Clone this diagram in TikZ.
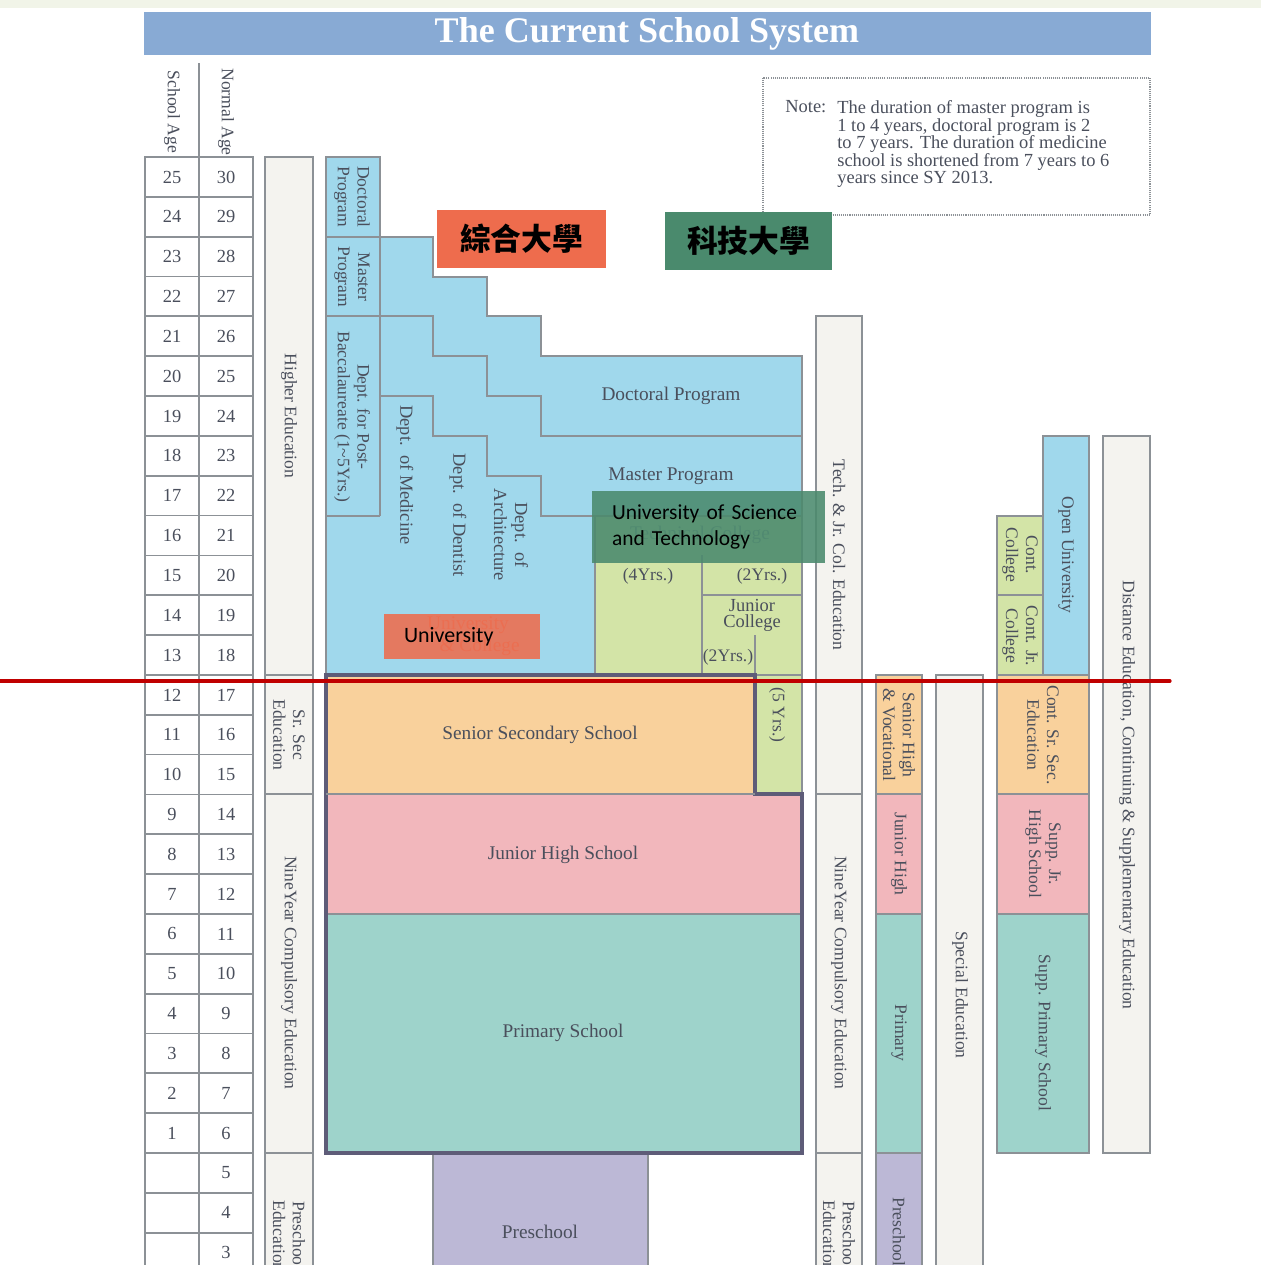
\documentclass[tikz,border=0pt]{standalone}
\usepackage{fontspec}
\setmainfont{Liberation Serif}
\newfontfamily\cjk{Noto Sans CJK TC}
\newfontfamily\calib{Carlito}
\usepackage{tikz}

\definecolor{ink}{HTML}{4A4F5C}
\definecolor{lgray}{HTML}{8C9196}
\definecolor{paper}{HTML}{F4F3EF}
\definecolor{topband}{HTML}{F1F4E8}
\definecolor{titlebar}{HTML}{88AAD4}
\definecolor{sky}{HTML}{A0D8EC}
\definecolor{leaf}{HTML}{D3E4A7}
\definecolor{peach}{HTML}{F9D19C}
\definecolor{rose}{HTML}{F2B7BC}
\definecolor{mint}{HTML}{9ED3CB}
\definecolor{lav}{HTML}{BCB8D6}
\definecolor{frame}{HTML}{5E5C78}
\definecolor{redline}{HTML}{C00000}
\definecolor{cjkred}{HTML}{EE6C4D}
\definecolor{cjkgreen}{HTML}{4A8A6D}
\definecolor{oldred}{HTML}{D98070}

\begin{document}
\begin{tikzpicture}[x=0.02cm,y=-0.02cm,
    cell/.style={draw=lgray,line width=1pt,fill=white},
    band/.style={draw=lgray,line width=1pt,fill=paper},
    blk/.style={draw=lgray,line width=1pt},
    lab/.style={text=ink,inner sep=0pt,align=center,font=\fontsize{10}{11.3}\selectfont},
    vlab/.style={lab,rotate=-90},
    big/.style={lab,font=\fontsize{11}{12.5}\selectfont},
    num/.style={lab,font=\fontsize{10.5}{12}\selectfont},
    tag/.style={inner sep=0pt,text=black}]

\useasboundingbox (0,0) rectangle (1261,1265);
\clip (0,0) rectangle (1261,1265);
\fill[topband] (0,0) rectangle (1261,8);

% title bar
\fill[titlebar] (144,12) rectangle (1151,55);
\node[font=\bfseries\fontsize{20.5}{22}\selectfont,text=white] (title) at (647,34) {The Current School System};

% age columns
\draw[lgray,line width=1pt] (199,63) -- (199,157);
\node[vlab] (hschool) at (172,112) {School Age};
\node[vlab] (hnormal) at (226,112) {Normal Age};
\foreach \i in {0,...,27}{
  \pgfmathsetmacro\yt{157+\i*39.84}
  \pgfmathtruncatemacro\sa{25-\i}
  \pgfmathtruncatemacro\na{30-\i}
  \draw[cell] (145,\yt) rectangle (199,\yt+39.84);
  \draw[cell] (199,\yt) rectangle (253,\yt+39.84);
  \ifnum\i<25 \node[num] (sa\i) at (172,\yt+20) {\sa}; \fi
  \node[num] (na\i) at (226,\yt+20) {\na};
}

% stage bands on the left
\draw[band] (265,157) rectangle (313,675);
\draw[band] (265,675) rectangle (313,794);
\draw[band] (265,794) rectangle (313,1153);
\draw[band] (265,1153) rectangle (313,1300);
\node[vlab] (higher) at (289,416) {Higher Education};
\node[vlab] (srsec) at (289,735) {Sr. Sec\\Education};
\node[vlab] (nineyr) at (289,973) {NineYear Compulsory Education};
\node[vlab] (presch) at (289,1236) {Preschool\\Education};

% university block
\draw[blk,fill=sky] (326,157) -- (380,157) -- (380,237) -- (433,237) -- (433,277) -- (487,277)
  -- (487,316) -- (541,316) -- (541,356) -- (802,356) -- (802,516) -- (595,516) -- (595,675)
  -- (326,675) -- cycle;
\draw[blk] (326,237) -- (380,237) (380,157) -- (380,516) (326,516) -- (380,516);
\draw[blk] (326,316) -- (433,316) -- (433,356) -- (487,356) -- (487,396) -- (541,396) -- (541,436) -- (802,436);
\draw[blk] (380,396) -- (433,396) -- (433,436) -- (487,436) -- (487,476) -- (541,476) -- (541,516) -- (595,516);

% technical college block
\draw[blk,fill=leaf] (595,516) rectangle (802,675);
\draw[blk,fill=leaf] (755,675) rectangle (802,794);
\draw[blk] (702,555) -- (702,675) (702,595) -- (802,595) (755,635) -- (755,675);

% schools
\fill[peach] (326,675) rectangle (755,794);
\fill[rose] (326,794) rectangle (802,914);
\fill[mint] (326,914) rectangle (802,1153);
\draw[blk] (326,914) -- (802,914);
\draw[blk,fill=lav] (433,1153) rectangle (648,1300);
\draw[frame,line width=1.8pt] (326,675) -- (755,675) -- (755,794) -- (802,794) -- (802,1153) -- (326,1153) -- cycle;
\draw[blk] (326,794) -- (755,794);

\node[vlab] (docsm) at (352,197) {Doctoral\\Program};
\node[vlab] (mastsm) at (352,277) {Master\\Program};
\node[vlab] (postbac) at (352,417) {Dept. for Post-\\Baccalaureate (1\textasciitilde5Yrs.)};
\node[big] (doctoral) at (671,396) {Doctoral Program};
\node[big] (master) at (671,476) {Master Program};
\node[vlab,font=\fontsize{10.5}{12}\selectfont] (medicine) at (405,475) {Dept.\ \ of Medicine};
\node[vlab,font=\fontsize{10.5}{12}\selectfont] (dentist) at (458,515) {Dept.\ \ of Dentist};
\node[vlab,font=\fontsize{10.5}{12}\selectfont] (archi) at (511,535) {Dept.\ \ of\\Architecture};
\node[big,text=oldred] (unicol) at (468,636) {University\\\hspace*{1.2em}\& College};
\node[big,text=ink!70] (techcol) at (700,535) {Technical College};
\node[lab] (four) at (648,576) {(4Yrs.)};
\node[lab] (two) at (762,576) {(2Yrs.)};
\node[big,font=\fontsize{10.5}{9}\selectfont] (junior) at (752,615) {Junior\\College};
\node[lab] (twojr) at (728,657) {(2Yrs.)};
\node[vlab] (five) at (777,715) {(5 Yrs.)};
\node[big] (senior) at (540,735) {Senior Secondary School};
\node[big] (jhs) at (563,855) {Junior High School};
\node[big] (primary) at (563,1033) {Primary School};
\node[big] (preschool) at (540,1232) {Preschool};

% columns on the right
\draw[band] (816,316) rectangle (862,794);
\draw[band] (816,794) rectangle (862,1153);
\draw[band] (816,1153) rectangle (862,1300);
\draw[blk,fill=peach] (876,675) rectangle (922,794);
\draw[blk,fill=rose] (876,794) rectangle (922,914);
\draw[blk,fill=mint] (876,914) rectangle (922,1153);
\draw[blk,fill=lav] (876,1153) rectangle (922,1300);
\draw[band] (936,675) rectangle (983,1300);
\draw[blk,fill=leaf] (997,516) rectangle (1043,595);
\draw[blk,fill=leaf] (997,595) rectangle (1043,675);
\draw[blk,fill=sky] (1043,436) rectangle (1089,675);
\draw[blk,fill=peach] (997,675) rectangle (1089,794);
\draw[blk,fill=rose] (997,794) rectangle (1089,914);
\draw[blk,fill=mint] (997,914) rectangle (1089,1153);
\draw[band] (1103,436) rectangle (1150,1153);

\node[vlab] (techjr) at (839,555) {Tech. \& Jr. Col. Education};
\node[vlab] (nineyr2) at (839,973) {NineYear Compulsory Education};
\node[vlab] (presch2) at (839,1236) {Preschool\\Education};
\node[vlab] (srvoc) at (899,735) {Senior High\\\& Vocational};
\node[vlab] (jrhigh) at (899,854) {Junior High};
\node[vlab] (prim2) at (899,1033) {Primary};
\node[vlab] (presch3) at (899,1232) {Preschool};
\node[vlab] (special) at (960,995) {Special Education};
\node[vlab] (contcol) at (1020,555) {Cont.\\College};
\node[vlab] (contjr) at (1020,636) {Cont. Jr.\\College};
\node[vlab] (openu) at (1066,555) {Open University};
\node[vlab] (contsr) at (1043,735) {Cont. Sr. Sec.\\Education};
\node[vlab] (suppjr) at (1043,854) {Supp. Jr.\\High School};
\node[vlab] (supppr) at (1043,1033) {Supp. Primary School};
\node[vlab] (distance) at (1127,795) {Distance Education, Continuing \& Supplementary Education};

% note
\draw[lgray,line width=1.2pt,dash pattern=on 0.6pt off 0.6pt] (763,78) rectangle (1150,215);
\node[lab,anchor=north west,font=\fontsize{10.5}{10.05}\selectfont] (notehd) at (785,100) {Note:};
\node[lab,anchor=north west,align=left,font=\fontsize{10.5}{10.05}\selectfont] (notetx) at (837,100)
  {The duration of master program is\\1 to 4 years, doctoral program is 2\\to 7 years. The duration of medicine\\school is shortened from 7 years to 6\\years since SY 2013.};

% overlay tags
\node[tag,fill=cjkred,minimum width=3.38cm,minimum height=1.16cm,font=\cjk\bfseries\fontsize{17.5}{18}\selectfont] (zonghe) at (521.5,239) {綜合大學};
\node[tag,fill=cjkgreen,minimum width=3.34cm,minimum height=1.16cm,font=\cjk\bfseries\fontsize{17.5}{18}\selectfont] (keji) at (748.5,241) {科技大學};
\node[tag,fill=cjkgreen,fill opacity=0.88,text opacity=1,minimum width=4.66cm,minimum height=1.44cm,
  text width=3.86cm,inner xsep=0.4cm,align=left,font=\calib\fontsize{12.2}{14.6}\selectfont] (ust) at (708.5,527)
  {University of Science\\and Technology};
\node[tag,fill=cjkred,fill opacity=0.88,text opacity=1,minimum width=3.12cm,minimum height=0.9cm,
  text width=2.32cm,inner xsep=0.4cm,align=left,font=\calib\fontsize{12.5}{14}\selectfont] (uni) at (462,636.5)
  {University};

% divider
\draw[redline,line width=1.8pt,line cap=round] (0,681) -- (1170,681);
\end{tikzpicture}
\end{document}
